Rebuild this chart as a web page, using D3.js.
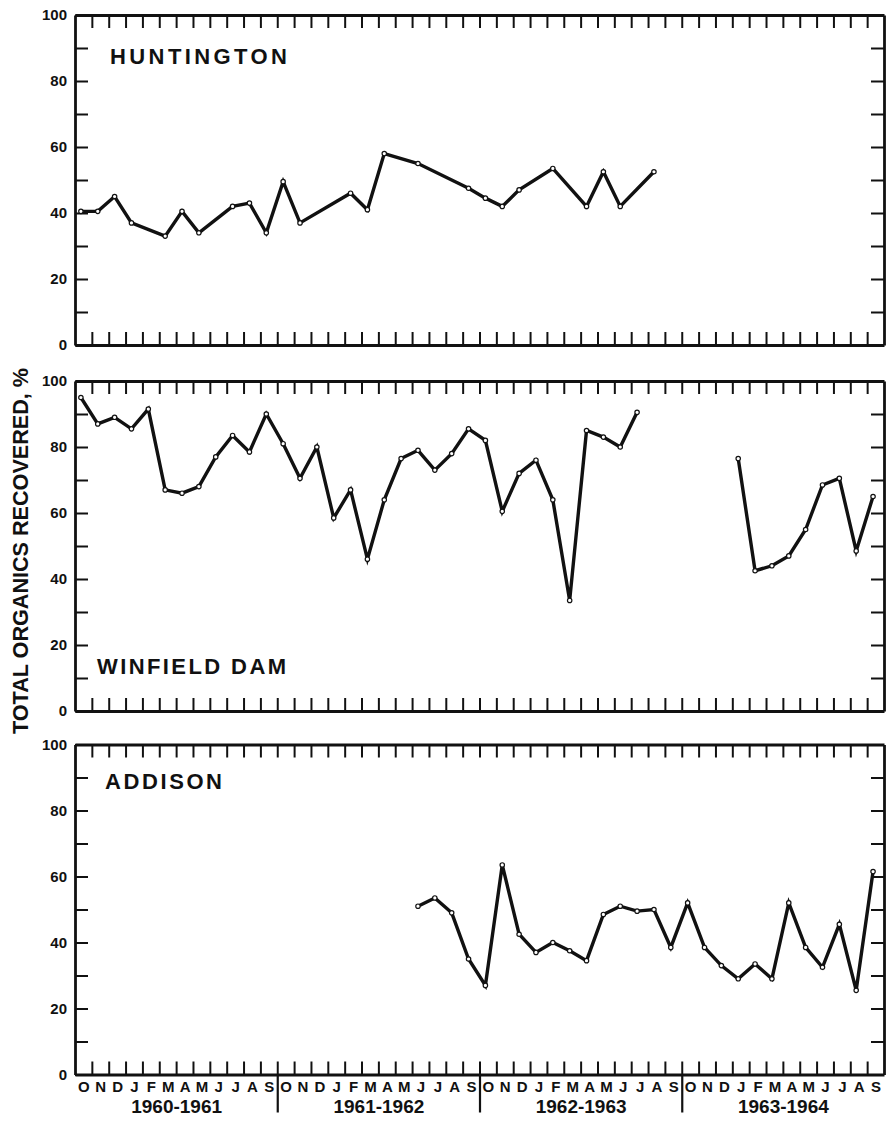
<!DOCTYPE html>
<html><head><meta charset="utf-8">
<script src="https://cdn.jsdelivr.net/npm/d3@7"></script>
<style>body{margin:0;background:#fff}svg{display:block}</style>
</head><body><svg id="c" width="891" height="1123"></svg>
<script>
// ---- data ----
const monthLabels = ["O","N","D","J","F","M","A","M","J","J","A","S"];
const yearLabels = ["1960-1961","1961-1962","1962-1963","1963-1964"];
const yTickValues = [0,10,20,30,40,50,60,70,80,90,100];
const panelTitles = ["HUNTINGTON","WINFIELD DAM","ADDISON"];
const yTitle = "TOTAL ORGANICS RECOVERED, %";

// month index: 0 = Oct 1960 ... 47 = Sep 1964
const huntingtonMonths = [0,1,2,3,5,6,7,9,10,11,12,13,16,17,18,20,23,24,25,26,28,30,31,32,34];
const huntingtonValues = [40.5,40.5,45,37,33,40.5,34,42,43,34,49.5,37,46,41,58,55,47.5,44.5,42,47,53.5,42,52.5,42,52.5];

const winfieldMonths = [0,1,2,3,4,5,6,7,8,9,10,11,12,13,14,15,16,17,18,19,20,21,22,23,24,25,26,27,28,29,30,31,32,33,
                        39,40,41,42,43,44,45,46,47];
const winfieldValues = [95,87,89,85.5,91.5,67,66,68,77,83.5,78.5,90,81,70.5,80,58.5,67,46,64,76.5,79,73,78,85.5,82,60.5,72,76,64,33.5,85,83,80,90.5,
                        76.5,42.5,44,47,55,68.5,70.5,48.5,65];

const addisonMonths = [20,21,22,23,24,25,26,27,28,29,30,31,32,33,34,35,36,37,38,39,40,41,42,43,44,45,46,47];
const addisonValues = [51,53.5,49,35,27,63.5,42.5,37,40,37.5,34.5,48.5,51,49.5,50,38.5,52,38.5,33,29,33.5,29,52,38.5,32.5,45.5,25.5,61.5];

const seriesMonths = [huntingtonMonths, winfieldMonths, addisonMonths];
const seriesValues = [huntingtonValues, winfieldValues, addisonValues];

// ---- layout ----
const FONT = "'Liberation Sans', Arial, sans-serif";
const left = 75, right = 884, panelH = 330;
const panelTops = [15, 381, 744.5];
const titlePos = [{x:110,dy:49,w:177},{x:97,dy:293,w:189},{x:105,dy:44.5,w:117}];
const ptOffset = 0.35;
const nMonths = 48;

const svg = d3.select("#c");
const x = d3.scaleLinear().domain([0, nMonths]).range([left, right]);
const boundaries = d3.range(1, nMonths);

panelTops.forEach((top, pi) => {
  const y = d3.scaleLinear().domain([0,100]).range([top + panelH, top]);
  const g = svg.append("g");

  const gl = g.append("g").attr("transform", `translate(${left},0)`)
    .call(d3.axisLeft(y).tickValues(yTickValues).tickSizeInner(-13).tickSizeOuter(0).tickPadding(8)
      .tickFormat(d => d % 20 === 0 ? d : ""));
  const gr = g.append("g").attr("transform", `translate(${right},0)`)
    .call(d3.axisRight(y).tickValues(yTickValues).tickSizeInner(-13).tickSizeOuter(0).tickFormat(""));
  const gt = g.append("g").attr("transform", `translate(0,${top})`)
    .call(d3.axisTop(x).tickValues(boundaries).tickSizeInner(-13).tickSizeOuter(0).tickFormat(""));
  const gb = g.append("g").attr("transform", `translate(0,${top+panelH})`)
    .call(d3.axisBottom(x).tickValues(boundaries).tickSizeInner(-13).tickSizeOuter(0).tickFormat(""));

  [gl,gr,gt,gb].forEach(a => {
    a.select(".domain").attr("stroke","#111").attr("stroke-width",2.8);
    a.selectAll(".tick line").attr("stroke","#111").attr("stroke-width",2);
    a.selectAll("text").attr("font-family",FONT).attr("font-weight","bold").attr("font-size",15).attr("fill","#111");
  });

  g.append("text").attr("x", titlePos[pi].x).attr("y", top + titlePos[pi].dy)
    .attr("font-family",FONT).attr("font-weight","bold").attr("font-size",22)
    .attr("textLength", titlePos[pi].w).attr("lengthAdjust","spacing")
    .attr("fill","#111").text(panelTitles[pi]);

  const pts = seriesMonths[pi].map((m,i) => ({m, v: seriesValues[pi][i]}));
  const segs = [];
  pts.forEach((p,i) => {
    if (i === 0 || p.m - pts[i-1].m > 4) segs.push([]);
    segs[segs.length-1].push(p);
  });
  const line = d3.line().x(d => x(d.m + ptOffset)).y(d => y(d.v));
  segs.forEach(s => {
    g.append("path").attr("d", line(s)).attr("fill","none").attr("stroke","#111")
      .attr("stroke-width",3.4).attr("stroke-linejoin","miter").attr("stroke-miterlimit",4);
  });
  g.selectAll("circle.pt").data(pts).join("circle").attr("class","pt")
    .attr("cx", d => x(d.m + ptOffset)).attr("cy", d => y(d.v)).attr("r", 2.2)
    .attr("fill","#fff").attr("stroke","#111").attr("stroke-width",1.2);

  if (pi === panelTops.length - 1) {
    const base = top + panelH;
    const gm = g.append("g").attr("transform", `translate(0,${base})`)
      .call(d3.axisBottom(x).tickValues(d3.range(nMonths).map(d => d + 0.5)).tickSize(0).tickPadding(7)
        .tickFormat((d,i) => monthLabels[i % 12]));
    gm.select(".domain").remove();
    gm.selectAll("text").attr("font-family",FONT).attr("font-weight","bold").attr("font-size",15).attr("fill","#111");

    const gy = g.append("g").attr("transform", `translate(0,${base})`)
      .call(d3.axisBottom(x).tickValues(yearLabels.map((d,i) => i*12 + 6)).tickSize(0).tickPadding(25)
        .tickFormat((d,i) => yearLabels[i]));
    gy.select(".domain").remove();
    gy.selectAll("text").attr("font-family",FONT).attr("font-weight","bold").attr("font-size",19).attr("fill","#111");

    const gd = g.append("g").attr("transform", `translate(0,${base})`)
      .call(d3.axisBottom(x).tickValues([12,24,36]).tickSize(38).tickSizeOuter(0).tickFormat(""));
    gd.select(".domain").remove();
    gd.selectAll(".tick line").attr("stroke","#111").attr("stroke-width",2.2);
  }
});

svg.append("text").attr("transform", "translate(28,551) rotate(-90)")
  .attr("text-anchor","middle").attr("font-family",FONT).attr("font-weight","bold")
  .attr("font-size",22).attr("textLength",366).attr("lengthAdjust","spacingAndGlyphs")
  .attr("fill","#111").text(yTitle);
</script></body></html>
